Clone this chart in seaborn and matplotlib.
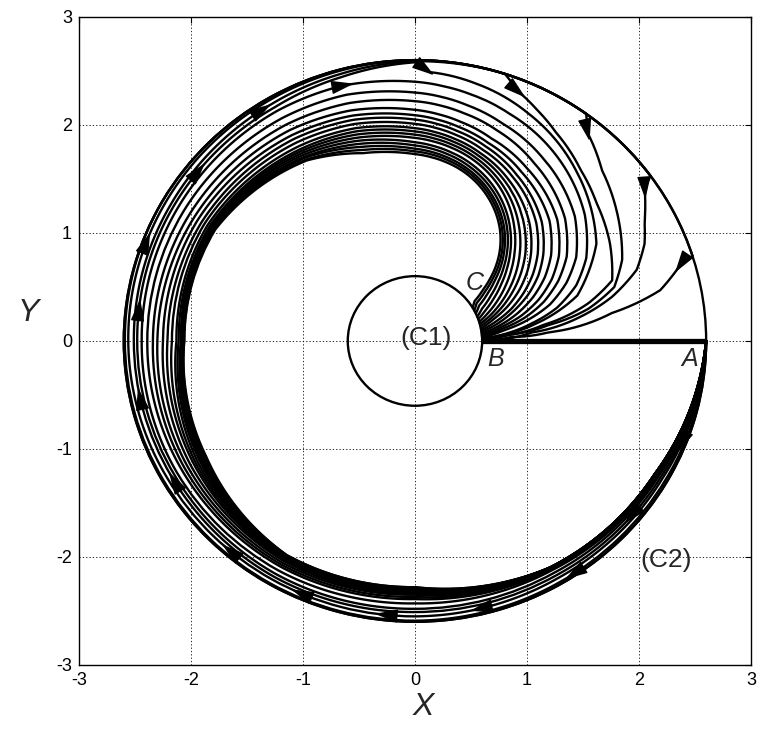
import numpy as np
import pandas as pd
import matplotlib
matplotlib.use("Agg")
import matplotlib.pyplot as plt
import seaborn as sns
from matplotlib.projections.polar import PolarAxes
from matplotlib.transforms import Affine2D

# ---------------------------------------------------------------------------
# Geometry: inner obstacle (C1), outer boundary (C2), start segment AB
# ---------------------------------------------------------------------------
R_INNER = 0.6
R_OUTER = 2.6
AB_X = [R_INNER, R_OUTER]
AB_Y = [0.0, 0.0]

# Ring part of every path: polar about the origin, clockwise sweep (degrees)
RING_THETA = [0, -30, -60, -90, -120, -150, -180, -210, -240, -255, -270]

# Final hook of every path: polar about this centre (degrees, clockwise)
Q_CENTER = (0.0, 0.9)

# --- paths that hug the outer boundary and leave it in the upper right -----
T_NAMES = ["Ta", "Tb", "Tc", "Td", "Te"]
T_RING = [
    [2.60, 2.51, 2.48, 2.48, 2.49, 2.48, 2.48, 2.49, 2.50, 2.53, 2.58],
    [2.60, 2.53, 2.51, 2.51, 2.52, 2.51, 2.51, 2.52, 2.54, 2.56, 2.59],
    [2.60, 2.55, 2.54, 2.55, 2.55, 2.55, 2.56, 2.57, 2.58, 2.59, 2.60],
    [2.60, 2.58, 2.58, 2.59, 2.59, 2.59, 2.59, 2.60, 2.60, 2.60, 2.60],
    [2.60, 2.60, 2.60, 2.60, 2.60, 2.60, 2.60, 2.60, 2.60, 2.60, 2.60],
]
T_DEPART = [-270, -288, -306, -324, -342.4]      # where each leaves (C2)
T_TAIL_THETA = [
    [85.3, 70, 50, 25, 0, -18.3, -34.4, -48.6],
    [57.3, 48.7, 39.3, 24.8, 13.2, 0.3, -10.9, -19.5, -33.1, -46.7],
    [33.8, 22.2, 9.8, -4.6, -12.7, -21.2, -32, -44.7],
    [14.2, 5.6, 0, -6.9, -15.6, -24.8, -38.1],
    [-4.3, -11.1, -20.0, -34.4, -45],
]
T_TAIL_R = [
    [1.595, 1.58, 1.575, 1.59, 1.62, 1.527, 1.309, 1.134],
    [1.687, 1.651, 1.627, 1.63, 1.664, 1.74, 1.793, 1.645, 1.373, 1.167],
    [1.853, 1.803, 1.826, 1.856, 1.824, 1.662, 1.415, 1.195],
    [2.115, 2.06, 2.05, 1.995, 1.827, 1.62, 1.33],
    [2.387, 2.232, 1.873, 1.45, 1.22],
]
T_END_PHI = [1.8, 1.5, 1.2, 0.9, 0.5]            # arrival angle on (C1)

# --- spiralling paths, outermost first --------------------------------------
U_RING = [
    [2.60, 2.50, 2.45, 2.43, 2.45, 2.45, 2.44, 2.45, 2.46, 2.45, 2.40],
    [2.60, 2.49, 2.44, 2.39, 2.41, 2.40, 2.39, 2.39, 2.38, 2.36, 2.30],
    [2.60, 2.49, 2.44, 2.37, 2.39, 2.37, 2.34, 2.33, 2.31, 2.28, 2.22],
    [2.60, 2.48, 2.44, 2.35, 2.37, 2.34, 2.30, 2.28, 2.25, 2.21, 2.14],
    [2.60, 2.48, 2.43, 2.34, 2.35, 2.31, 2.25, 2.24, 2.20, 2.16, 2.09],
    [2.60, 2.48, 2.43, 2.33, 2.34, 2.28, 2.21, 2.20, 2.16, 2.12, 2.05],
    [2.60, 2.48, 2.43, 2.32, 2.33, 2.26, 2.17, 2.17, 2.12, 2.08, 2.01],
    [2.60, 2.48, 2.43, 2.32, 2.32, 2.24, 2.13, 2.14, 2.08, 2.04, 1.97],
    [2.60, 2.47, 2.42, 2.31, 2.32, 2.22, 2.11, 2.12, 2.05, 2.01, 1.94],
    [2.60, 2.47, 2.42, 2.31, 2.31, 2.21, 2.09, 2.11, 2.03, 1.98, 1.91],
    [2.60, 2.47, 2.42, 2.30, 2.31, 2.20, 2.08, 2.10, 2.01, 1.95, 1.88],
    [2.60, 2.47, 2.42, 2.30, 2.30, 2.19, 2.08, 2.09, 1.99, 1.92, 1.84],
    [2.60, 2.47, 2.42, 2.29, 2.30, 2.18, 2.07, 2.08, 1.97, 1.89, 1.81],
    [2.60, 2.47, 2.42, 2.29, 2.30, 2.17, 2.07, 2.07, 1.96, 1.86, 1.78],
    [2.60, 2.47, 2.42, 2.28, 2.29, 2.16, 2.06, 2.07, 1.94, 1.83, 1.755],
    [2.60, 2.47, 2.42, 2.28, 2.29, 2.15, 2.06, 2.06, 1.93, 1.80, 1.73],
]
U_TAIL_THETA = [80, 70, 55, 35, 10, -5, -15, -25, -35, -45]
U_TAIL_R = [
    [1.48, 1.47, 1.47, 1.50, 1.54, 1.535, 1.49, 1.40, 1.28, 1.17],
    [1.38, 1.365, 1.36, 1.39, 1.45, 1.445, 1.40, 1.33, 1.23, 1.13],
    [1.30, 1.285, 1.28, 1.30, 1.36, 1.36, 1.325, 1.27, 1.195, 1.11],
    [1.217, 1.20, 1.19, 1.22, 1.29, 1.29, 1.265, 1.22, 1.16, 1.09],
    [1.167, 1.15, 1.14, 1.16, 1.22, 1.22, 1.20, 1.165, 1.12, 1.07],
    [1.127, 1.11, 1.10, 1.11, 1.15, 1.15, 1.14, 1.115, 1.08, 1.045],
    [1.088, 1.072, 1.06, 1.07, 1.10, 1.10, 1.09, 1.072, 1.05, 1.02],
    [1.049, 1.034, 1.022, 1.025, 1.04, 1.04, 1.035, 1.025, 1.01, 0.99],
    [1.02, 1.005, 0.993, 0.99, 0.99, 0.99, 0.985, 0.98, 0.975, 0.968],
    [0.99, 0.976, 0.963, 0.953, 0.943, 0.94, 0.94, 0.94, 0.942, 0.944],
    [0.961, 0.947, 0.934, 0.92, 0.90, 0.893, 0.893, 0.897, 0.905, 0.915],
    [0.921, 0.907, 0.893, 0.878, 0.862, 0.855, 0.853, 0.856, 0.866, 0.882],
    [0.892, 0.878, 0.864, 0.85, 0.835, 0.826, 0.822, 0.822, 0.83, 0.848],
    [0.863, 0.85, 0.837, 0.823, 0.81, 0.80, 0.795, 0.79, 0.795, 0.81],
    [0.84, 0.828, 0.816, 0.803, 0.79, 0.78, 0.773, 0.766, 0.766, 0.778],
    [0.815, 0.805, 0.795, 0.782, 0.77, 0.76, 0.752, 0.745, 0.742, 0.752],
]
U_END_PHI = [2.2, 3, 4, 5, 6.5, 8, 9.5, 11, 13, 15, 17, 19.5, 22, 25, 28, 31]

# Direction markers: (path, part of the path, angle in that part's frame)
ARROW_PATH = ["Ta", "Tb", "Tc", "Td", "Te", "U1", "Tb", "Ta", "Tc", "Ta",
              "Tb", "Tb", "Tc", "Tc", "Tc", "Tc", "Td", "Tb", "Tc"]
ARROW_PART = ["tail"] * 5 + ["ring"] * 14
ARROW_THETA = [86.5, 57.0, 34.0, 13.8, -4.6, -255, -237.6, -219.2, -201,
               -187, -168, -149, -130.4, -113.6, -96, -76.8, -56.7, -40,
               -21.7]


# ---------------------------------------------------------------------------
# Assemble the paths
# ---------------------------------------------------------------------------
def to_q(x, y):
    dx, dy = x - Q_CENTER[0], y - Q_CENTER[1]
    return float(np.degrees(np.arctan2(dy, dx))), float(np.hypot(dx, dy))


def ring_end_in_q(th_deg, r):
    t = np.deg2rad(th_deg)
    return to_q(r * np.cos(t), r * np.sin(t))


def c1_point_in_q(phi_deg):
    p = np.deg2rad(phi_deg)
    return to_q(R_INNER * np.cos(p), R_INNER * np.sin(p))


ring_paths, tail_paths = {}, {}
for name, ring, dep, tt, tr_, phi in zip(T_NAMES, T_RING, T_DEPART,
                                         T_TAIL_THETA, T_TAIL_R, T_END_PHI):
    th, rr = list(RING_THETA), list(ring)
    if dep < th[-1]:
        th.append(dep)
        rr.append(R_OUTER)
    ring_paths[name] = (th, rr)
    start = ring_end_in_q(th[-1], rr[-1])
    end = c1_point_in_q(phi)
    tail_paths[name] = ([start[0]] + list(tt) + [end[0]],
                        [start[1]] + list(tr_) + [end[1]])

for k, (ring, tr_, phi) in enumerate(zip(U_RING, U_TAIL_R, U_END_PHI), start=1):
    name = f"U{k}"
    ring_paths[name] = (list(RING_THETA), list(ring))
    start = ring_end_in_q(RING_THETA[-1], ring[-1])
    end = c1_point_in_q(phi)
    tail_paths[name] = ([start[0]] + list(U_TAIL_THETA) + [end[0]],
                        [start[1]] + list(tr_) + [end[1]])

ring_paths["C1"] = ([0, 180, 360], [R_INNER] * 3)
ring_paths["C2"] = ([0, 180, 360], [R_OUTER] * 3)


def frame(paths):
    rows = []
    for name, (th, rr) in paths.items():
        for i, (t, r) in enumerate(zip(th, rr)):
            rows.append({"path": name, "step": i, "theta": np.deg2rad(t), "r": r})
    return pd.DataFrame(rows)


ring_df = frame(ring_paths)
tail_df = frame(tail_paths)

# ---------------------------------------------------------------------------
# Figure
# ---------------------------------------------------------------------------
sns.set_style("white")
plt.rcParams["font.family"] = ["Liberation Sans", "DejaVu Sans"]
plt.rcParams["axes.unicode_minus"] = False

fig = plt.figure(figsize=(7.58, 7.40), dpi=100)
ax = fig.add_axes([0.1042, 0.1014, 0.8865, 0.8757])

try:
    polar = PolarAxes.PolarTransform(apply_theta_transforms=False)
except TypeError:
    polar = PolarAxes.PolarTransform()
ring_tr = polar + ax.transData
tail_tr = polar + Affine2D().translate(*Q_CENTER) + ax.transData

LW = 1.7
sns.lineplot(data=ring_df, x="theta", y="r", units="path", estimator=None,
             sort=False, color="black", linewidth=LW, transform=ring_tr,
             ax=ax, legend=False)
sns.lineplot(data=tail_df, x="theta", y="r", units="path", estimator=None,
             sort=False, color="black", linewidth=LW, transform=tail_tr,
             ax=ax, legend=False)
# let the polar transforms bend each straight (theta, r) step into a spiral arc
for ln in list(ax.lines):
    ln.get_path()._interpolation_steps = 60
    ln.recache(always=True)

# Thick start segment A-B
sns.lineplot(x=AB_X, y=AB_Y, color="black", linewidth=3.8, ax=ax,
             legend=False, solid_capstyle="butt")


def point_on(name, part, theta_deg):
    th, rr = (ring_paths if part == "ring" else tail_paths)[name]
    r = np.interp(theta_deg, th[::-1], rr[::-1])
    t = np.deg2rad(theta_deg)
    p = np.array([r * np.cos(t), r * np.sin(t)])
    if part == "tail":
        p = p + np.array(Q_CENTER)
    return p


for name, part, th in zip(ARROW_PATH, ARROW_PART, ARROW_THETA):
    p0 = point_on(name, part, th)
    p1 = point_on(name, part, th - 0.4)
    d = (p1 - p0) / np.hypot(*(p1 - p0))
    ax.annotate("", xy=p0 + 0.09 * d, xytext=p0 - 0.09 * d,
                arrowprops=dict(arrowstyle="-|>,head_length=1.0,head_width=0.3",
                                color="black", lw=1.0, mutation_scale=14,
                                shrinkA=0, shrinkB=0))

# Labels inside the plot
ax.text(0.10, 0.03, "(C1)", fontsize=19, ha="center", va="center")
ax.text(2.24, -2.03, "(C2)", fontsize=19, ha="center", va="center")
ax.text(0.72, -0.17, "B", fontsize=18, style="italic", ha="center", va="center")
ax.text(2.45, -0.17, "A", fontsize=18, style="italic", ha="center", va="center")
ax.text(0.53, 0.54, "C", fontsize=18, style="italic", ha="center", va="center")

# Axes styling
ax.set_xlim(-3, 3)
ax.set_ylim(-3, 3)
ax.set_xticks(range(-3, 4))
ax.set_yticks(range(-3, 4))
ax.grid(True, color="black", linestyle=(0, (1.5, 2.5)), linewidth=0.6)
ax.set_axisbelow(True)
ax.tick_params(direction="in", length=4, width=0.8, top=True, right=True,
               labelsize=13, pad=5, colors="black")
for sp in ax.spines.values():
    sp.set_color("black")
    sp.set_linewidth(1.0)

ax.set_xlabel("X", fontsize=23, style="italic", va="center")
ax.set_ylabel("Y", fontsize=23, style="italic", rotation=0, va="center", ha="center")
ax.xaxis.set_label_coords(0.512, -0.065)
ax.yaxis.set_label_coords(-0.076, 0.543)

fig.savefig("out.png", dpi=100, facecolor="white")
